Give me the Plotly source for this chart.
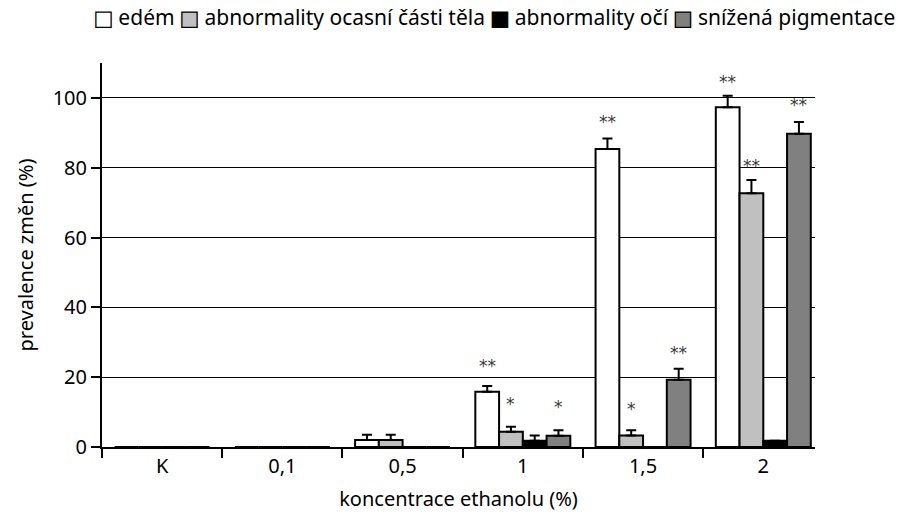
import plotly.graph_objects as go

# Ethanol concentration groups (K = control)
categories = ["K", "0,1", "0,5", "1", "1,5", "2"]

# Prevalence of changes (%) and their standard errors
edem = [0, 0, 2.0, 15.8, 85.4, 97.3]
edem_err = [0, 0, 1.5, 1.7, 3.0, 3.3]
ocas = [0, 0, 2.0, 4.4, 3.3, 72.7]
ocas_err = [0, 0, 1.5, 1.4, 1.5, 3.8]
oci = [0, 0, 0, 1.8, 0, 1.8]
oci_err = [0, 0, 0, 1.5, 0, 0]
pigment = [0, 0, 0, 3.2, 19.3, 89.7]
pigment_err = [0, 0, 0, 1.6, 3.1, 3.4]

# Significance marks: (category, series index, label, y position)
signif = [
    ("1", 0, "**", 23.2), ("1", 1, "*", 12.2), ("1", 3, "*", 11.5),
    ("1,5", 0, "**", 93.0), ("1,5", 1, "*", 11.0), ("1,5", 3, "**", 27.0),
    ("2", 0, "**", 104.5), ("2", 1, "**", 80.5), ("2", 3, "**", 98.0),
]

series_names = ["edém", "abnormality ocasní části těla",
                "abnormality očí", "snížená pigmentace"]
series_values = [edem, ocas, oci, pigment]
series_errors = [edem_err, ocas_err, oci_err, pigment_err]
series_colors = ["#ffffff", "#c0c0c0", "#000000", "#808080"]

FONT = "Noto Sans"
W, H = 902, 530
ML, MR, MT, MB = 102, 87, 63, 83
PW, PH = W - ML - MR, H - MT - MB

fig = go.Figure()
for name, vals, errs, color in zip(series_names, series_values,
                                   series_errors, series_colors):
    fig.add_trace(go.Bar(
        name=name, x=categories, y=vals, showlegend=False,
        marker=dict(color=color, line=dict(color="black", width=2)),
        error_y=dict(type="data", array=errs, arrayminus=[0] * len(errs),
                     symmetric=False, color="black", thickness=2, width=5),
    ))

n = len(series_names)
bargap = 0.21
slot = (1 - bargap) / n
for cat, idx, label, yv in signif:
    ci = categories.index(cat)
    xpos = ci - (1 - bargap) / 2 + slot * (idx + 0.5)
    fig.add_annotation(
        x=xpos, y=yv, xref="x", yref="y", text=label, showarrow=False,
        font=dict(family="DejaVu Sans", size=17, color="#3a3a3a"),
    )

# Compact one-line legend above the plot, right-aligned to the page edge:
# an outlined filled square glyph followed by the series name.
parts = []
for name, color in zip(series_names, series_colors):
    parts.append(
        f"<span style='color:{color};stroke:black;stroke-width:1.3px;"
        f"font-family:DejaVu Sans;font-size:20px'>■</span> {name}")
fig.add_annotation(
    x=(897 - ML) / PW, y=(H - MB - 17) / PH, xref="paper", yref="paper",
    xanchor="right", yanchor="middle", text=" ".join(parts), showarrow=False,
    font=dict(family=FONT, size=21, color="black"),
)

fig.update_layout(
    width=W, height=H,
    margin=dict(l=ML, r=MR, t=MT, b=MB),
    paper_bgcolor="white", plot_bgcolor="white",
    barmode="group", bargap=bargap, bargroupgap=0,
    font=dict(family=FONT, size=20, color="black"),
    showlegend=False,
    xaxis=dict(
        type="category", range=[-0.5, 5.43], automargin=False,
        showline=True, linecolor="black", linewidth=2,
        ticks="outside", tickson="boundaries", ticklen=9, tickwidth=2,
        tickcolor="black", showgrid=False,
        title=dict(text="koncentrace ethanolu (%)", standoff=14,
                   font=dict(family=FONT, size=20)),
        tickfont=dict(family=FONT, size=20),
    ),
    yaxis=dict(
        range=[0, 110], tickvals=[0, 20, 40, 60, 80, 100], automargin=False,
        showline=True, linecolor="black", linewidth=2,
        ticks="outside", ticklen=9, tickwidth=2, tickcolor="black",
        showgrid=True, gridcolor="black", gridwidth=1,
        zeroline=False,
        title=dict(text="prevalence změn (%)", standoff=14,
                   font=dict(family=FONT, size=20)),
        tickfont=dict(family=FONT, size=20),
    ),
)

fig.write_html("out.html")
